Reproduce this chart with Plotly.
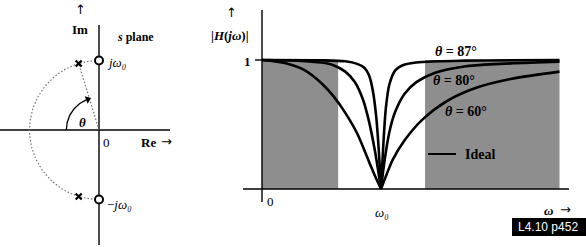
import numpy as np
import plotly.graph_objects as go

# ---------------- data ----------------
# s-plane (units of omega0)
zeros_re = [0.0, 0.0]
zeros_im = [1.0, -1.0]
pole_angle_deg = 73          # angle theta measured from negative real axis
omega0 = 1.0

# |H(jw)| curves (w in units of omega0), split at the notch
w60_left = [0.0, 0.2, 0.35, 0.5, 0.6, 0.7, 0.8, 0.9, 0.95, 1.0]
h60_left = [1.0, 0.975, 0.925, 0.82, 0.72, 0.59, 0.43, 0.21, 0.1, 0.0]
w60_right = [1.0, 1.05, 1.1, 1.2, 1.35, 1.55, 1.8, 2.1, 2.5]
h60_right = [0.0, 0.12, 0.23, 0.38, 0.54, 0.68, 0.785, 0.855, 0.91]

w80_left = [0.0, 0.3, 0.5, 0.6, 0.7, 0.78, 0.85, 0.9, 0.95, 1.0]
h80_left = [1.0, 0.995, 0.98, 0.96, 0.91, 0.83, 0.69, 0.52, 0.29, 0.0]
w80_right = [1.0, 1.03, 1.07, 1.12, 1.2, 1.3, 1.45, 1.7, 2.0, 2.5]
h80_right = [0.0, 0.22, 0.44, 0.6, 0.74, 0.83, 0.9, 0.95, 0.97, 0.987]

w87_left = [0.0, 0.5, 0.7, 0.8, 0.86, 0.9, 0.93, 0.96, 0.98, 1.0]
h87_left = [1.0, 0.998, 0.99, 0.97, 0.94, 0.88, 0.77, 0.56, 0.32, 0.0]
w87_right = [1.0, 1.02, 1.04, 1.07, 1.12, 1.2, 1.35, 1.7, 2.5]
h87_right = [0.0, 0.35, 0.62, 0.81, 0.92, 0.965, 0.985, 0.995, 0.999]

ideal_bands = [(0.0, 0.64), (1.37, 2.5)]
ideal_level = 1.0

curve_labels = ["θ = 87°", "θ = 80°", "θ = 60°"]

# ---------------- figure ----------------
W, H = 586, 247
SERIF = "Liberation Serif"
ARROWF = "DejaVu Sans"
fig = go.Figure()

# left panel axis mapping: origin at (99,130) px, 69.5 px per unit
s = 69.5
lx_range = [(0 - 99) / s, (200 - 99) / s]
ly_range = [-(247 - 130) / s, 130 / s]
# right panel mapping: w=0 at x=262, 119 px/unit; H=0 at y=189, 129 px/unit
rx_range = [(200 - 262) / 119, (586 - 262) / 119]
ry_range = [(189 - 247) / 129, 189 / 129]

DOT = dict(color="#707070", width=1.2, dash="1.5px,2px")

# dotted semicircle in left half plane
ang = np.linspace(90, 270, 120)
fig.add_trace(go.Scatter(x=omega0 * np.cos(np.radians(ang)), y=omega0 * np.sin(np.radians(ang)),
                         mode="lines", line=DOT, xaxis="x", yaxis="y", hoverinfo="skip"))
pr = -omega0 * np.cos(np.radians(pole_angle_deg))
pi_ = omega0 * np.sin(np.radians(pole_angle_deg))
poles_re = [pr, pr]
poles_im = [pi_, -pi_]
# dotted radius to upper pole
fig.add_trace(go.Scatter(x=[0, poles_re[0]], y=[0, poles_im[0]], mode="lines",
                         line=DOT, xaxis="x", yaxis="y", hoverinfo="skip"))
# theta arc with arrowhead
a2 = np.linspace(180, 113, 40)
r_arc = 0.47
fig.add_trace(go.Scatter(x=r_arc * np.cos(np.radians(a2)), y=r_arc * np.sin(np.radians(a2)),
                         mode="lines", line=dict(color="black", width=1.3),
                         xaxis="x", yaxis="y", hoverinfo="skip"))
end = np.radians(110)
fig.add_trace(go.Scatter(x=[r_arc * np.cos(end)], y=[r_arc * np.sin(end)], mode="markers",
                         marker=dict(symbol="triangle-up", size=7, angle=69, color="black"),
                         xaxis="x", yaxis="y", hoverinfo="skip"))
# poles and zeros
fig.add_trace(go.Scatter(x=poles_re, y=poles_im, mode="markers",
                         marker=dict(symbol="x-thin", size=6, line=dict(color="black", width=2.2)),
                         xaxis="x", yaxis="y", hoverinfo="skip"))
fig.add_trace(go.Scatter(x=zeros_re, y=zeros_im, mode="markers",
                         marker=dict(symbol="circle", size=8, color="white", line=dict(color="black", width=2)),
                         xaxis="x", yaxis="y", hoverinfo="skip"))

# left axes lines
shapes = [
    dict(type="line", xref="x", yref="y", x0=0, x1=0, y0=(130 - 25) / s, y1=(130 - 245) / s,
         line=dict(color="black", width=1.4), layer="below"),
    dict(type="line", xref="x", yref="y", x0=lx_range[0], x1=(170 - 99) / s, y0=0, y1=0,
         line=dict(color="black", width=1.4), layer="below"),
]

# right panel: ideal shaded bands
for a, b in ideal_bands:
    shapes.append(dict(type="rect", xref="x2", yref="y2", x0=a, x1=b, y0=0, y1=ideal_level,
                       fillcolor="#8e8e8e", line=dict(width=0), layer="below"))
shapes += [
    dict(type="line", xref="x2", yref="y2", x0=0, x1=0, y0=(189 - 10) / 129, y1=(189 - 202) / 129,
         line=dict(color="black", width=1.4)),
    dict(type="line", xref="x2", yref="y2", x0=(243 - 262) / 119, x1=(569 - 262) / 119, y0=0, y1=0,
         line=dict(color="black", width=1.4)),
    dict(type="line", xref="x2", yref="y2", x0=-7 / 119, x1=0, y0=ideal_level, y1=ideal_level,
         line=dict(color="black", width=1.4)),
    # legend line for Ideal
    dict(type="line", xref="x2", yref="y2", x0=(428 - 262) / 119, x1=(456 - 262) / 119,
         y0=(189 - 154) / 129, y1=(189 - 154) / 129, line=dict(color="black", width=2)),
    # label box
    dict(type="rect", xref="paper", yref="paper", x0=512 / W, x1=1.0, y0=1 - 236 / H, y1=1 - 218 / H,
         fillcolor="black", line=dict(width=0)),
]

for wl, hl, wr, hr in [(w60_left, h60_left, w60_right, h60_right),
                       (w80_left, h80_left, w80_right, h80_right),
                       (w87_left, h87_left, w87_right, h87_right)]:
    for xx, yy in [(wl, hl), (wr, hr)]:
        fig.add_trace(go.Scatter(x=xx, y=yy, mode="lines",
                                 line=dict(color="black", width=2.6, shape="spline", smoothing=0.8),
                                 xaxis="x2", yaxis="y2", hoverinfo="skip"))


def txt(x, y, t, ref="1", size=13, anchor="center", bold=False, color="black", font=SERIF):
    if bold:
        t = "<b>" + t + "</b>"
    xr = "x" if ref == "1" else "x2"
    yr = "y" if ref == "1" else "y2"
    fig.add_annotation(x=x, y=y, xref=xr, yref=yr, text=t, showarrow=False, xanchor=anchor,
                       yanchor="middle", font=dict(family=font, size=size, color=color))


def L(px, py):
    return (px - 99) / s, (130 - py) / s


def R(px, py):
    return (px - 262) / 119, (189 - py) / 129


txt(*L(80, 9), "↑", size=13, font=ARROWF)
txt(*L(80, 29), "Im", size=13, bold=True)
txt(*L(135, 37), "<i>s</i> plane", size=12, bold=True)
txt(*L(105, 62), "<i>jω₀</i>", size=13, anchor="left")
txt(*L(82, 122), "<i>θ</i>", size=13, bold=True)
txt(*L(106, 142), "0", size=13)
txt(*L(148, 142), "Re", size=13, bold=True)
txt(*L(166, 141), "→", size=13, font=ARROWF)
txt(*L(105, 204), "−<i>jω₀</i>", size=13, anchor="left")

txt(*R(231, 12), "↑", ref="2", size=13, font=ARROWF)
txt(*R(230, 35), "|<i>H</i>(<i>jω</i>)|", ref="2", size=13, bold=True)
txt(*R(247, 61), "1", ref="2", size=13, bold=True)
txt(*R(270, 201), "0", ref="2", size=13)
txt(*R(382, 212), "<i>ω₀</i>", ref="2", size=13)
txt(*R(548, 210), "<i>ω</i>", ref="2", size=13, bold=True)
txt(*R(565, 209), "→", ref="2", size=13, font=ARROWF)
txt(*R(456, 51), "<i>θ</i> = 87°", ref="2", size=14, bold=True)
txt(*R(454, 80), "<i>θ</i> = 80°", ref="2", size=14, bold=True)
txt(*R(466, 111), "<i>θ</i> = 60°", ref="2", size=14, bold=True)
txt(*R(463, 154), "Ideal", ref="2", size=14, bold=True, anchor="left")

fig.add_annotation(x=516 / W, y=1 - 227 / H, xref="paper", yref="paper", text="L4.10 p452",
                   showarrow=False, xanchor="left", yanchor="middle",
                   font=dict(family="Liberation Sans", size=12, color="white"))

ax_common = dict(visible=False, showgrid=False, zeroline=False, fixedrange=True)
fig.update_layout(
    width=W, height=H, margin=dict(l=0, r=0, t=0, b=0),
    paper_bgcolor="white", plot_bgcolor="white", showlegend=False,
    xaxis=dict(domain=[0, 200 / W], range=lx_range, **ax_common),
    yaxis=dict(domain=[0, 1], range=ly_range, **ax_common),
    xaxis2=dict(domain=[200 / W, 1], range=rx_range, anchor="y2", **ax_common),
    yaxis2=dict(domain=[0, 1], range=ry_range, anchor="x2", **ax_common),
    shapes=shapes,
)

fig.write_html("out.html")
